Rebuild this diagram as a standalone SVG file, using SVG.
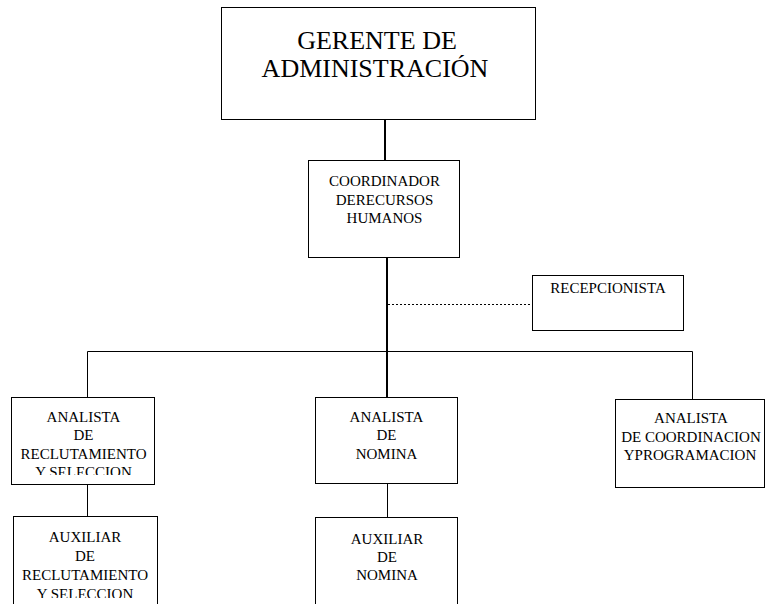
<svg xmlns="http://www.w3.org/2000/svg" width="765" height="604" viewBox="0 0 765 604">
<style>
.box{fill:#fff;stroke:#000;stroke-width:1}
.t{font-family:'Liberation Serif',Tinos,'Times New Roman',Times,'DejaVu Serif',serif;font-size:15px;fill:#000;text-anchor:middle}
.big{font-size:26px}
.thick{stroke:#000;stroke-width:2;fill:none}
.thin{stroke:#000;stroke-width:1;fill:none}
.dot{stroke:#000;stroke-width:1;stroke-dasharray:2,2;fill:none}
</style>
<defs>
<clipPath id="c1"><rect x="11" y="397" width="144" height="78"/></clipPath>
<clipPath id="c2"><rect x="13" y="516" width="145" height="82"/></clipPath>
</defs>
<g id="connectors">
<line class="thick" x1="385" y1="120" x2="385" y2="160"/>
<line class="thick" x1="387" y1="258" x2="387" y2="397"/>
<line class="dot" x1="388" y1="304.5" x2="533" y2="304.5"/>
<polyline class="thin" points="87.5,397 87.5,351.5 692.5,351.5 692.5,399"/>
<line class="thin" x1="87.5" y1="485" x2="87.5" y2="516"/>
<line class="thin" x1="387.5" y1="484" x2="387.5" y2="517"/>
</g>
<g id="gerente">
<rect class="box" x="221.5" y="7.5" width="314" height="112"/>
<text class="t big" x="377" y="49" font-family="Liberation Serif, serif">GERENTE DE</text>
<text class="t big" x="375" y="77" font-family="Liberation Serif, serif">ADMINISTRACIÓN</text>
</g>
<g id="coordinador">
<rect class="box" x="308.5" y="160.5" width="151" height="97"/>
<text class="t" x="384.5" y="186">COORDINADOR</text>
<text class="t" x="384.5" y="205">DERECURSOS</text>
<text class="t" x="384.5" y="223">HUMANOS</text>
</g>
<g id="recepcionista">
<rect class="box" x="532.5" y="275.5" width="151" height="55"/>
<text class="t" x="608" y="293">RECEPCIONISTA</text>
</g>
<g id="analista-reclutamiento">
<rect class="box" x="11.5" y="397.5" width="143" height="87"/>
<g clip-path="url(#c1)">
<text class="t" x="83.5" y="422">ANALISTA</text>
<text class="t" x="83.5" y="440">DE</text>
<text class="t" x="83.5" y="459">RECLUTAMIENTO</text>
<text class="t" x="83.5" y="477">Y SELECCION</text>
</g>
</g>
<g id="analista-nomina">
<rect class="box" x="315.5" y="397.5" width="142" height="86"/>
<text class="t" x="386.5" y="422">ANALISTA</text>
<text class="t" x="386.5" y="440">DE</text>
<text class="t" x="386.5" y="459">NOMINA</text>
</g>
<g id="analista-coordinacion">
<rect class="box" x="615.5" y="399.5" width="149" height="88"/>
<text class="t" x="691" y="423">ANALISTA</text>
<text class="t" x="691" y="442">DE COORDINACION</text>
<text class="t" x="690" y="460">YPROGRAMACION</text>
</g>
<g id="auxiliar-reclutamiento">
<rect class="box" x="13.5" y="516.5" width="144" height="100"/>
<g clip-path="url(#c2)">
<text class="t" x="85" y="542">AUXILIAR</text>
<text class="t" x="85" y="561">DE</text>
<text class="t" x="85" y="580">RECLUTAMIENTO</text>
<text class="t" x="85" y="599">Y SELECCION</text>
</g>
</g>
<g id="auxiliar-nomina">
<rect class="box" x="315.5" y="517.5" width="142" height="100"/>
<text class="t" x="387" y="544">AUXILIAR</text>
<text class="t" x="387" y="562">DE</text>
<text class="t" x="387" y="580">NOMINA</text>
</g>
</svg>
